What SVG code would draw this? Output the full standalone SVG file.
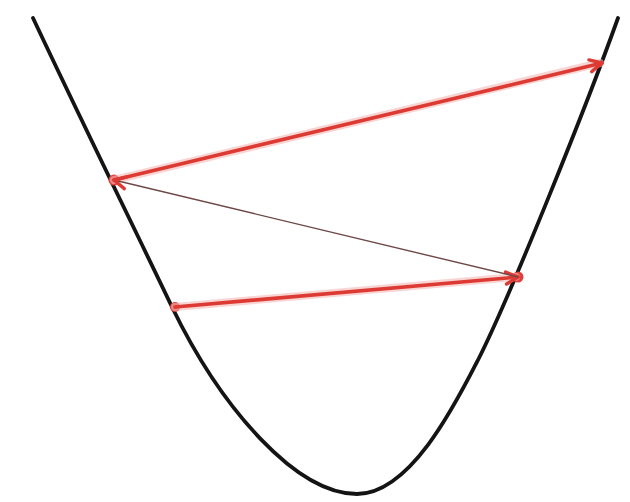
<svg xmlns="http://www.w3.org/2000/svg" width="630" height="502" viewBox="0 0 630 502">
  <style>
    .curve { fill: none; stroke: #141414; stroke-width: 3.8; stroke-linecap: round; }
    .halo { fill: none; stroke: #f4b8b4; stroke-width: 8; stroke-linecap: round; opacity: 0.6; }
    .thick { fill: none; stroke: #dc3a33; stroke-width: 3.6; stroke-linecap: round; }
    .thin { fill: none; stroke: #6e4848; stroke-width: 1.4; }
    .dot { fill: #e0403a; }
  </style>
  <defs>
    <marker id="head" viewBox="-16 -9 18 18" markerWidth="18" markerHeight="18" refX="0" refY="0" orient="auto" markerUnits="userSpaceOnUse">
      <path d="M-12,-6 L0,0 L-12,6" fill="none" stroke="#dc3a33" stroke-width="3.4" stroke-linecap="round" stroke-linejoin="round"/>
    </marker>
  </defs>
  <rect width="630" height="502" fill="#ffffff"/>
  <g id="curve">
    <path class="curve" d="M33,18 C80,118 140,240 172,307 C222,410 297,494 357,494 C410,494 455,405 478,360 C510,297 588,102 618,18"/>
  </g>
  <g id="point-a"><circle class="dot" cx="114" cy="180" r="5.5"/></g>
  <g id="point-b"><circle class="dot" cx="518" cy="277" r="5.5"/></g>
  <g id="point-c"><circle class="dot" cx="175" cy="307" r="5"/></g>
  <g id="connectors">
    <line class="halo" x1="175" y1="307" x2="516" y2="277"/>
    <line class="halo" x1="114" y1="180" x2="600" y2="63"/>
    <line class="thick" x1="175" y1="307" x2="518" y2="277" marker-end="url(#head)"/>
    <line class="thin" x1="518" y1="277" x2="114" y2="180" marker-end="url(#head)"/>
    <line class="thick" x1="114" y1="180" x2="602" y2="63" marker-end="url(#head)"/>
  </g>
</svg>
